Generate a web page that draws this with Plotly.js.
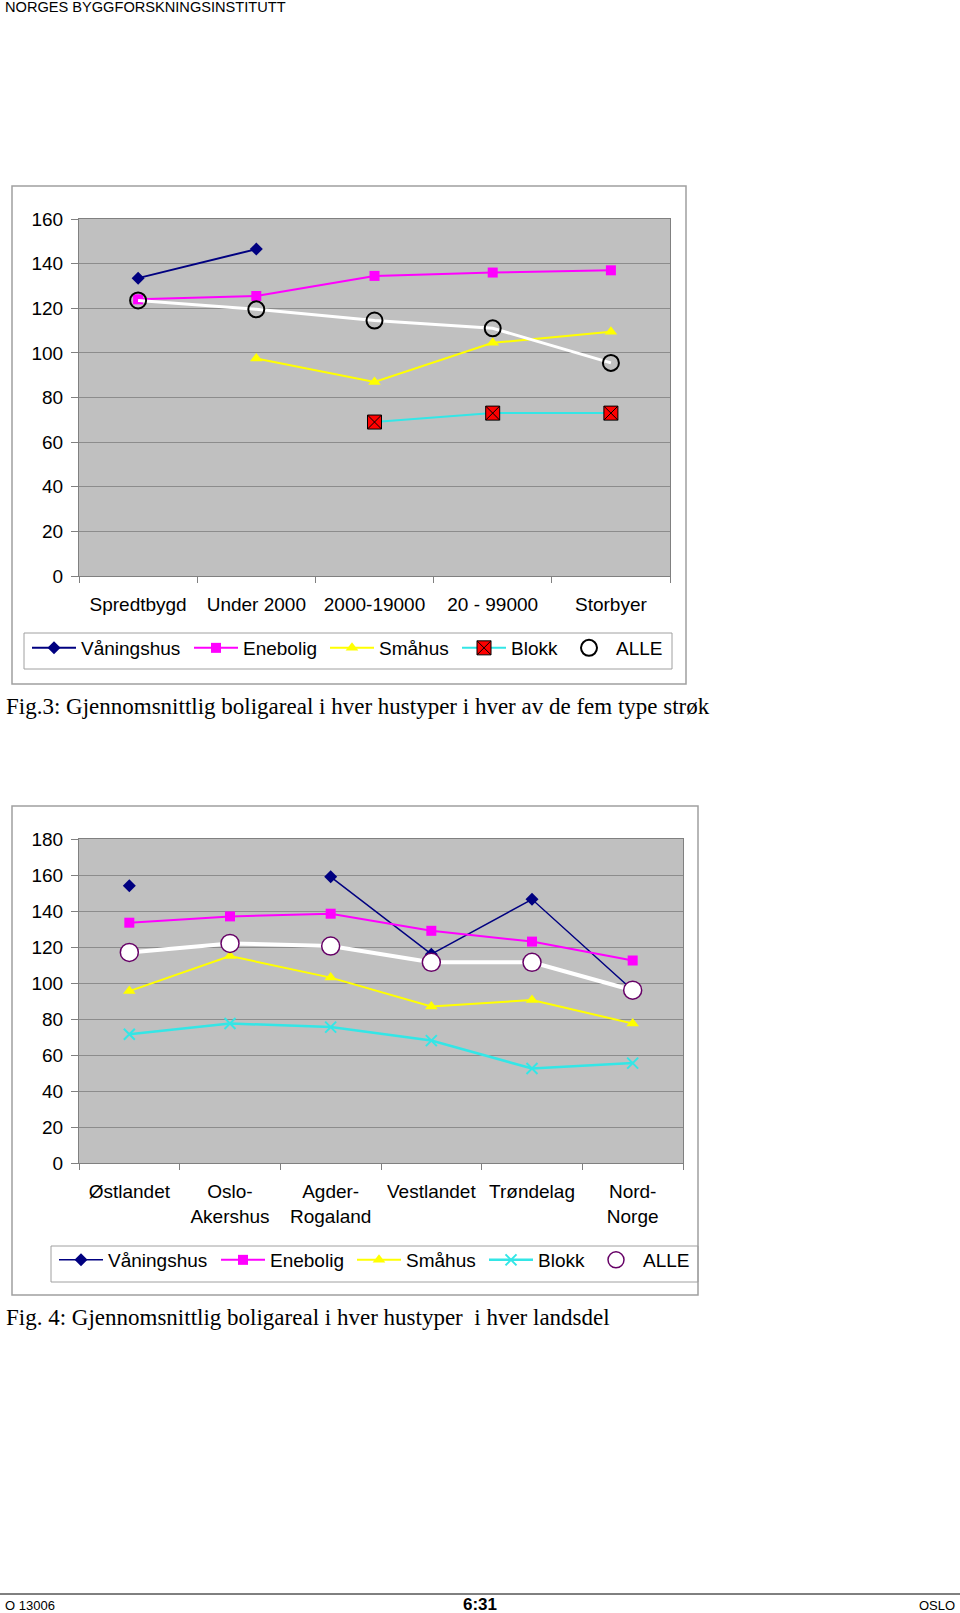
<!DOCTYPE html>
<html>
<head>
<meta charset="utf-8">
<script src="https://cdn.plot.ly/plotly-3.0.1.min.js"></script>
<style>
  html, body { margin: 0; padding: 0; background: #fff; }
  #chart { width: 960px; height: 1613px; }
</style>
</head>
<body>
<div id="chart"></div>
<script>
// Fig.3 - average floor area per house type, by type of area
const strokCategories = ["Spredtbygd", "Under 2000", "2000-19000", "20 - 99000", "Storbyer"];
const strokVaningshus = [133.5, 146.5, null, null, null];
const strokEnebolig = [124, 125.5, 134.5, 136, 137];
const strokSmahus = [null, 97.5, 87, 104.5, 109.5];
const strokBlokk = [null, null, 69, 73, 73];
const strokAlle = [123.5, 119.5, 114.5, 111, 95.5];

// Fig.4 - average floor area per house type, by region
const landsdelCategories = ["Østlandet", "Oslo-<br>Akershus", "Agder-<br>Rogaland", "Vestlandet", "Trøndelag", "Nord-<br>Norge"];
const landsdelVaningshus = [154, null, 159, 116, 146.5, 96];
const landsdelEnebolig = [133.5, 137, 138.5, 129, 123, 112.5];
const landsdelSmahus = [95.5, 115, 103, 87, 90.5, 77.5];
const landsdelBlokk = [71.5, 77.5, 75.5, 68, 52.5, 55.5];
const landsdelAlle = [117, 122, 120.5, 111.5, 111.5, 96];

const seriesNames = ["Våningshus", "Enebolig", "Småhus", "Blokk", "ALLE"];

const W = 960, H = 1613;
const px = (x) => x / W;
const py = (y) => 1 - y / H;

const sans = "Liberation Sans, Arial, sans-serif";
const serif = "Liberation Serif, Times New Roman, serif";

function makeTraces(cats, vals, axis, legend, opts) {
  const [xa, ya] = axis;
  return [
    {
      x: cats, y: vals[0], xaxis: xa, yaxis: ya, legend: legend,
      type: "scatter", mode: "lines+markers", name: seriesNames[0],
      line: { color: "#000080", width: opts.vanWidth },
      marker: { symbol: "diamond", size: 10, color: "#000080" },
      legendwidth: opts.lw[0],
    },
    {
      x: cats, y: vals[1], xaxis: xa, yaxis: ya, legend: legend,
      type: "scatter", mode: "lines+markers", name: seriesNames[1],
      line: { color: "#ff00ff", width: 2 },
      marker: { symbol: "square", size: 10, color: "#ff00ff" },
      legendwidth: opts.lw[1],
    },
    {
      x: cats, y: vals[2], xaxis: xa, yaxis: ya, legend: legend,
      type: "scatter", mode: "lines+markers", name: seriesNames[2],
      line: { color: "#ffff00", width: 2 },
      marker: { symbol: "triangle-up", size: 11, color: "#ffff00" },
      legendwidth: opts.lw[2],
    },
    {
      x: cats, y: vals[3], xaxis: xa, yaxis: ya, legend: legend,
      type: "scatter", mode: "lines+markers", name: seriesNames[3],
      line: { color: "#33e6e6", width: opts.blokkWidth },
      marker: opts.blokkMarker,
      legendwidth: opts.lw[3],
    },
    {
      x: cats, y: vals[4], xaxis: xa, yaxis: ya, legend: legend,
      type: "scatter", mode: "lines+markers", name: seriesNames[4],
      line: { color: "#ffffff", width: opts.alleWidth },
      marker: opts.alleMarker,
      legendwidth: opts.lw[4],
    },
  ];
}

const traces = [
  ...makeTraces(strokCategories,
    [strokVaningshus, strokEnebolig, strokSmahus, strokBlokk, strokAlle],
    ["x", "y"], "legend", {
      vanWidth: 2,
      blokkWidth: 2,
      alleWidth: 3,
      blokkMarker: { symbol: "square-x", size: 14, color: "#ff0000", line: { color: "#000", width: 1 } },
      alleMarker: { symbol: "circle-open", size: 16, color: "#000", line: { color: "#000", width: 2 } },
      lw: [103, 77, 73, 46, 52],
    }),
  ...makeTraces(landsdelCategories,
    [landsdelVaningshus, landsdelEnebolig, landsdelSmahus, landsdelBlokk, landsdelAlle],
    ["x2", "y2"], "legend2", {
      vanWidth: 1.5,
      blokkWidth: 2.5,
      alleWidth: 4,
      blokkMarker: { symbol: "x-thin-open", size: 11, color: "#33e6e6", line: { color: "#33e6e6", width: 2 } },
      alleMarker: { symbol: "circle", size: 18, color: "#ffffff", line: { color: "#660066", width: 1.5 } },
      lw: [103, 77, 73, 46, 52],
    }),
];

const gridColor = "#8c8c8c";
const frameColor = "#808080";

function xAxis(domain, n) {
  return {
    domain: domain, type: "category", range: [-0.5, n - 0.5],
    showgrid: false, zeroline: false, fixedrange: true,
    showline: true, mirror: true, linecolor: frameColor, linewidth: 1,
    ticks: "outside", tickson: "boundaries", ticklen: 6, tickcolor: frameColor,
    ticklabelstandoff: 11,
    tickfont: { family: sans, size: 19, color: "#000" },
  };
}

function yAxis(domain, max, anchor) {
  return {
    domain: domain, anchor: anchor, range: [0, max], dtick: 20,
    showgrid: true, gridcolor: gridColor, gridwidth: 1, zeroline: false,
    showline: true, mirror: true, linecolor: frameColor, linewidth: 1,
    ticks: "outside", ticklen: 7, tickcolor: frameColor,
    ticklabelstandoff: 4,
    tickfont: { family: sans, size: 19, color: "#000" },
  };
}

const legendBase = {
  orientation: "h", xanchor: "left", yanchor: "middle",
  bgcolor: "rgba(0,0,0,0)", borderwidth: 0, itemwidth: 44,
  font: { family: sans, size: 19, color: "#000" },
  itemclick: false, itemdoubleclick: false,
};

const layout = {
  width: W, height: H,
  margin: { l: 0, r: 0, t: 0, b: 0 },
  paper_bgcolor: "#ffffff",
  plot_bgcolor: "#c0c0c0",
  showlegend: true,
  xaxis: Object.assign(xAxis([px(79), px(670)], strokCategories.length), { anchor: "y" }),
  yaxis: yAxis([py(576), py(219)], 160, "x"),
  xaxis2: Object.assign(xAxis([px(79), px(683)], landsdelCategories.length), { anchor: "y2" }),
  yaxis2: yAxis([py(1163), py(839)], 180, "x2"),
  legend: Object.assign({}, legendBase, { x: px(27), y: py(648) }),
  legend2: Object.assign({}, legendBase, { x: px(54), y: py(1260) }),
  shapes: [
    // chart frames
    { type: "rect", xref: "paper", yref: "paper", x0: px(12), x1: px(686), y0: py(684), y1: py(186),
      line: { color: "#a0a0a0", width: 1.5 }, layer: "below" },
    { type: "rect", xref: "paper", yref: "paper", x0: px(12), x1: px(698), y0: py(1295), y1: py(806),
      line: { color: "#a0a0a0", width: 1.5 }, layer: "below" },
    // legend boxes
    { type: "rect", xref: "paper", yref: "paper", x0: px(24), x1: px(672), y0: py(669), y1: py(633),
      line: { color: "#a0a0a0", width: 1 }, layer: "below" },
    { type: "rect", xref: "paper", yref: "paper", x0: px(51), x1: px(698), y0: py(1282), y1: py(1246),
      line: { color: "#a0a0a0", width: 1 }, layer: "below" },
    // footer rule
    { type: "line", xref: "paper", yref: "paper", x0: 0, x1: 1, y0: py(1594), y1: py(1594),
      line: { color: "#000", width: 1 } },
  ],
  annotations: [
    { text: "NORGES BYGGFORSKNINGSINSTITUTT", xref: "paper", yref: "paper", x: px(3), y: py(7),
      xanchor: "left", yanchor: "middle", showarrow: false, font: { family: sans, size: 14.6, color: "#000" } },
    { text: "Fig.3: Gjennomsnittlig boligareal i hver hustyper i hver av de fem type strøk",
      xref: "paper", yref: "paper", x: px(4), y: py(706), xanchor: "left", yanchor: "middle",
      showarrow: false, font: { family: serif, size: 23, color: "#000" } },
    { text: "Fig. 4: Gjennomsnittlig boligareal i hver hustyper \u00a0i hver landsdel",
      xref: "paper", yref: "paper", x: px(4), y: py(1317), xanchor: "left", yanchor: "middle",
      showarrow: false, font: { family: serif, size: 23, color: "#000" } },
    { text: "O 13006", xref: "paper", yref: "paper", x: px(3), y: py(1605),
      xanchor: "left", yanchor: "middle", showarrow: false, font: { family: sans, size: 13, color: "#000" } },
    { text: "<b>6:31</b>", xref: "paper", yref: "paper", x: px(480), y: py(1604),
      xanchor: "center", yanchor: "middle", showarrow: false, font: { family: sans, size: 17, color: "#000" } },
    { text: "OSLO", xref: "paper", yref: "paper", x: px(957), y: py(1605),
      xanchor: "right", yanchor: "middle", showarrow: false, font: { family: sans, size: 13, color: "#000" } },
  ],
};

Plotly.newPlot("chart", traces, layout, { staticPlot: true, displayModeBar: false });
</script>
</body>
</html>
